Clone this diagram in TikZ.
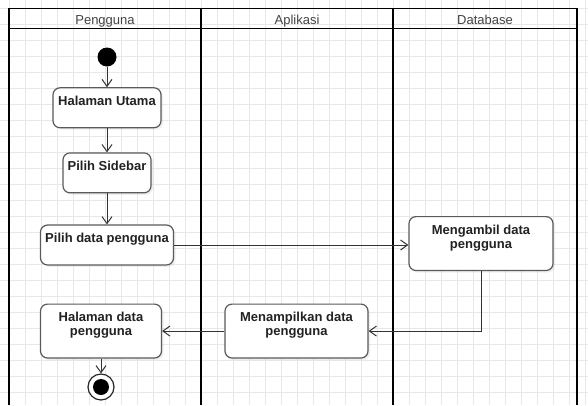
\documentclass[tikz,border=0pt]{standalone}
\usepackage{fontspec}
\setmainfont{Liberation Sans}
\usetikzlibrary{positioning, arrows.meta, shadows}

\definecolor{gridgray}{HTML}{E8E8E8}
\definecolor{boxline}{HTML}{5A5A5A}
\definecolor{txtdark}{HTML}{222222}

\tikzset{
  lane/.style={line width=1.6pt},
  lanehead/.style={font=\fontsize{13}{14}\selectfont, text=txtdark!85, anchor=base},
  act/.style={draw=boxline, line width=1.2pt, fill=white, rounded corners=7pt, align=center,
    font=\fontsize{13}{14}\selectfont\bfseries, text=txtdark, inner xsep=3pt, inner ysep=8pt,
    text depth=14.5pt, drop shadow={opacity=0.12, shadow xshift=2pt, shadow yshift=-2pt}},
  flow/.style={-{Straight Barb[length=7pt,width=10pt]}, line width=1pt, draw=black!80},
}

\begin{document}
\begin{tikzpicture}[x=1pt, y=-1pt, node distance=20pt]
    \useasboundingbox (0,0) rectangle (588,405);
    % background grid
    \fill[white] (0,0) rectangle (588,405);
    \foreach \gx in {9,25,...,585} \draw[gridgray, line width=0.45pt] (\gx,0) -- (\gx,405);
    \foreach \gy in {8.5,24.5,...,404} \draw[gridgray, line width=0.45pt] (0,\gy) -- (588,\gy);

    % swimlanes
    \draw[lane] (9,405) -- (9,8.5) -- (577,8.5) -- (577,405);
    \draw[lane] (9,28.5) -- (577,28.5);
    \draw[lane] (201,8.5) -- (201,405);
    \draw[lane] (393,8.5) -- (393,405);
    \node[lanehead] (hPengguna) at (105,24.3) {Pengguna};
    \node[lanehead] (hAplikasi) at (297,24.3) {Aplikasi};
    \node[lanehead] (hDatabase) at (485,24.3) {Database};

    % activities
    \node[circle, fill=black, minimum size=19pt, inner sep=0pt] (start) at (107,57) {};
    \node[act, minimum width=108pt, below=20.5pt of start] (hu) {Halaman Utama};
    \node[act, minimum width=88pt, below=24pt of hu] (ps) {Pilih Sidebar};
    \node[act, minimum width=133pt, below=31pt of ps] (pd) {Pilih data pengguna};
    \node[act, minimum width=144pt, anchor=north] (mg) at (481,216) {Mengambil data\\pengguna};
    \node[act, minimum width=143pt, anchor=north] (mt) at (296.5,303.5) {Menampilkan data\\pengguna};
    \node[act, minimum width=121pt, anchor=north] (hd) at (101,303.5) {Halaman data\\pengguna};
    \node[circle, draw=black!85, line width=1.2pt, fill=white, minimum size=26pt, inner sep=0pt,
      path picture={\fill[black] (path picture bounding box.center) circle (8pt);}] (stop) at (101,387) {};

    % flows
    \draw[flow] (start) -- (hu);
    \draw[flow] (hu) -- (ps);
    \draw[flow] (ps) -- (pd);
    \draw[flow] (pd.east) -- (pd.east -| mg.west);
    \draw[flow] (mg) |- (mt);
    \draw[flow] (mt) -- (hd);
    \draw[flow] (hd) -- (stop);
\end{tikzpicture}
\end{document}
